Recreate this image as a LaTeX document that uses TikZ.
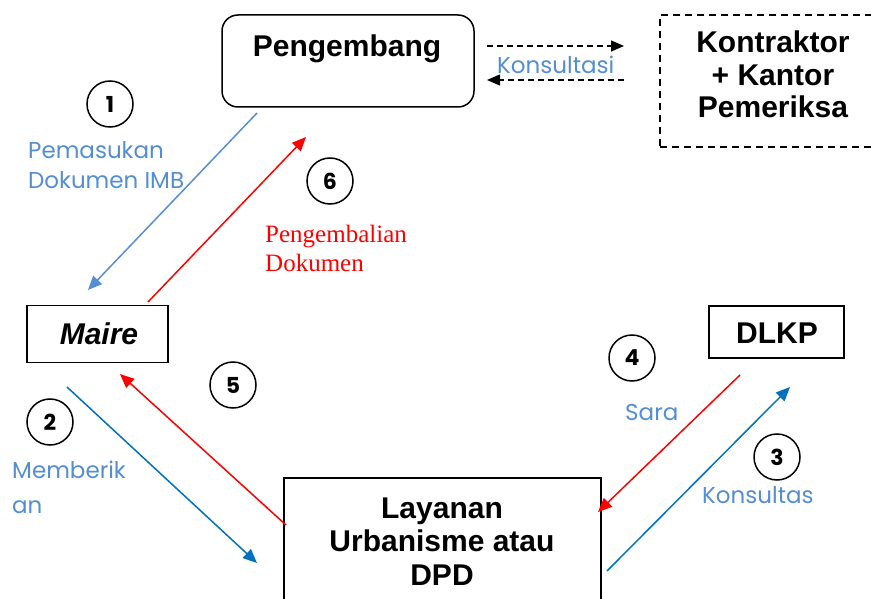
\documentclass[tikz,border=0pt]{standalone}
\usepackage{fontspec}
\setmainfont{Liberation Sans}
\newfontfamily\labelfont{Poppins}
\newfontfamily\seriffont{Liberation Serif}
\usetikzlibrary{arrows.meta}
\definecolor{lblue}{RGB}{85,142,213}
\definecolor{dblue}{RGB}{0,112,192}
\definecolor{lbltext}{RGB}{84,141,212}
\begin{document}
\begin{tikzpicture}[x=1pt,y=-1pt,
  title/.style={font=\fontsize{30}{32.5}\selectfont\bfseries, inner sep=0pt, align=center},
  frame/.style={draw, line width=1.5pt, inner sep=0pt},
  numcircle/.style={circle, draw, line width=1.5pt, minimum size=46pt, inner sep=0pt,
    font=\labelfont\fontsize{22}{22}\selectfont\bfseries},
  lbl/.style={text=lbltext, font=\labelfont\fontsize{23}{30}\selectfont, inner sep=0pt, anchor=base west, align=left},
  flow/.style={line width=1.5pt, -{Triangle[length=14pt,width=12pt]}},
  consult/.style={line width=1.3pt, dash pattern=on 6pt off 4pt, -{Triangle[length=13pt,width=11pt]}},
]
\useasboundingbox (0,0) rectangle (871,599);

% boxes (a multi-line node's base is its last line)
\node[frame, rounded corners=16pt, minimum width=252pt, minimum height=92pt] (peng) at (348,61) {};
\node[title, anchor=base] (pengtxt) at (347,57) {Pengembang};

\node[frame, dash pattern=on 7pt off 5pt, minimum width=226pt, minimum height=132pt] (kontr) at (773,81) {};
\node[title, anchor=base] (kontrtxt) at (773,118) {Kontraktor\\+ Kantor\\Pemeriksa};

\node[frame, minimum width=141pt, minimum height=57pt] (maire) at (97.5,334) {};
\node[title, anchor=base, font=\fontsize{30}{32}\selectfont\bfseries\itshape] (mairetxt) at (99,344) {Maire};

\node[frame, minimum width=135pt, minimum height=52pt] (dlkp) at (776.5,332) {};
\node[title, anchor=base] (dlkptxt) at (777,343) {DLKP};

\node[frame, minimum width=317pt, minimum height=170pt] (layanan) at (442.5,563) {};
\node[title, anchor=base, font=\fontsize{30}{33.5}\selectfont\bfseries] (layanantxt) at (442,585) {Layanan\\Urbanisme atau\\DPD};

% connector end points
\coordinate (a1s) at (257,113); \coordinate (a1e) at (88,290);
\coordinate (a6s) at (148,302); \coordinate (a6e) at (306,137);
\coordinate (a2s) at (67,387);  \coordinate (a2e) at (257,563);
\coordinate (a5s) at (286,525); \coordinate (a5e) at (120,374);
\coordinate (a4s) at (740,375); \coordinate (a4e) at (598,512);
\coordinate (a3s) at (607,571); \coordinate (a3e) at (790,387);
\coordinate (k1s) at (487,46);  \coordinate (k1e) at (624,46);
\coordinate (k2s) at (624,80);  \coordinate (k2e) at (487,80);

% connectors
\draw[flow, lblue] (a1s) -- (a1e);
\draw[flow, red] (a6s) -- (a6e);
\draw[flow, dblue] (a2s) -- (a2e);
\draw[flow, red] (a5s) -- (a5e);
\draw[flow, red] (a4s) -- (a4e);
\draw[flow, dblue] (a3s) -- (a3e);
\draw[consult] (k1s) -- (k1e);
\draw[consult] (k2s) -- (k2e);

% step numbers
\node[numcircle] (n1) at (110,104) {1};
\node[numcircle] (n2) at (50,422) {2};
\node[numcircle] (n3) at (777,457) {3};
\node[numcircle] (n4) at (632,358) {4};
\node[numcircle] (n5) at (233,385) {5};
\node[numcircle] (n6) at (330,181) {6};

% labels
\node[lbl] (lkons) at (497,74) {Konsultasi};
\node[lbl] (lpem) at (28,189) {Pemasukan\\Dokumen IMB};
\node[lbl, font=\labelfont\fontsize{23}{35}\selectfont] (lmem) at (12,513) {Memberik\\an};
\node[lbl] (lsara) at (625,420) {Sara};
\node[lbl] (lkons2) at (702,503) {Konsultas};
\node[anchor=base west, inner sep=0pt, align=left, text=red,
  font=\seriffont\fontsize{25}{29}\selectfont] (lpengb) at (265,272) {Pengembalian\\Dokumen};
\end{tikzpicture}
\end{document}
